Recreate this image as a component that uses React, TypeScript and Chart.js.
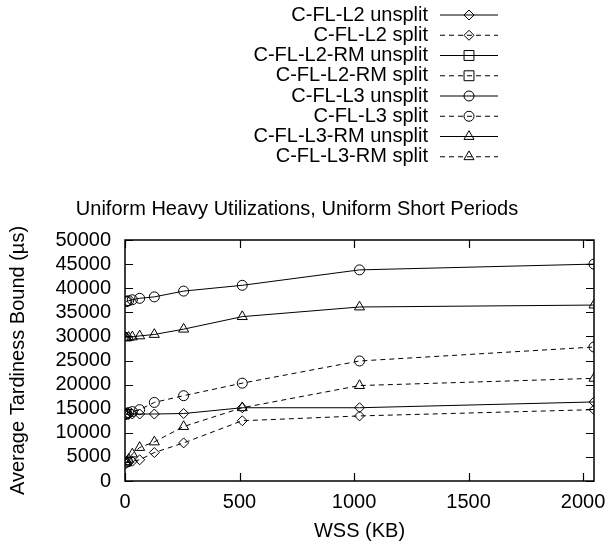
import React, { useEffect, useRef } from 'react';
import { Chart, registerables } from 'chart.js';
import { drawPoint } from 'chart.js/helpers';

Chart.register(...registerables);

// WSS sizes (KB)
const wss = [4, 8, 16, 32, 64, 128, 256, 512, 1024, 2048];

// Average tardiness bound (µs)
const l2Unsplit = [13700, 13800, 13800, 13900, 13900, 13900, 14000, 15200, 15200, 16400];
const l2Split = [3600, 3800, 3900, 4100, 4400, 5900, 7900, 12500, 13500, 14800];
const l2RmUnsplit: number[] = [];
const l2RmSplit: number[] = [];
const l3Unsplit = [37200, 37300, 37400, 37600, 37900, 38200, 39400, 40600, 43800, 45000];
const l3Split = [13900, 14000, 14200, 14400, 14800, 16300, 17700, 20300, 24900, 27800];
const l3RmUnsplit = [29700, 29700, 29800, 29900, 30100, 30400, 31500, 34100, 36100, 36500];
const l3RmSplit = [3700, 4000, 4500, 5600, 6950, 8100, 11300, 15200, 19800, 21300];

// Tick labels
const xTickValues = [0, 500, 1000, 1500, 2000];
const yTickValues = [0, 5000, 10000, 15000, 20000, 25000, 30000, 35000, 40000, 45000, 50000];

const seriesLabels = [
  'C-FL-L2 unsplit',
  'C-FL-L2 split',
  'C-FL-L2-RM unsplit',
  'C-FL-L2-RM split',
  'C-FL-L3 unsplit',
  'C-FL-L3 split',
  'C-FL-L3-RM unsplit',
  'C-FL-L3-RM split',
];
const seriesValues = [l2Unsplit, l2Split, l2RmUnsplit, l2RmSplit, l3Unsplit, l3Split, l3RmUnsplit, l3RmSplit];
const seriesMarkers = ['rectRot', 'rectRot', 'rect', 'rect', 'circle', 'circle', 'triangle', 'triangle'];
const seriesDashed = [false, true, false, true, false, true, false, true];

const titleText = 'Uniform Heavy Utilizations, Uniform Short Periods';
const xTitle = 'WSS (KB)';
const yTitle = 'Average Tardiness Bound (µs)';

const FONT = "'Liberation Sans', Arial, Helvetica, sans-serif";
const DASH = [5, 4];

function markerRadius(style: string) {
  if (style === 'rect') return 7;
  if (style === 'triangle') return 5.8;
  return 5;
}

const framePlugin = {
  id: 'gpFrame',
  afterDraw(chart: any) {
    const ctx = chart.ctx as CanvasRenderingContext2D;
    const { left, right, top, bottom } = chart.chartArea;
    const xs = chart.scales.x;
    const ys = chart.scales.y;
    const TL = 8;
    ctx.save();
    ctx.strokeStyle = '#000';
    ctx.lineWidth = 1.2;
    ctx.setLineDash([]);
    for (const v of xTickValues) {
      const px = Math.round(xs.getPixelForValue(v)) + 0.5;
      ctx.beginPath();
      ctx.moveTo(px, bottom);
      ctx.lineTo(px, bottom - TL);
      ctx.moveTo(px, top);
      ctx.lineTo(px, top + TL);
      ctx.stroke();
    }
    for (const v of yTickValues) {
      const py = Math.round(ys.getPixelForValue(v)) + 0.5;
      ctx.beginPath();
      ctx.moveTo(left, py);
      ctx.lineTo(left + TL, py);
      ctx.moveTo(right, py);
      ctx.lineTo(right - TL, py);
      ctx.stroke();
    }
    ctx.lineWidth = 1.5;
    ctx.strokeRect(left, top, right - left, bottom - top);
    ctx.restore();
  },
};

const legendPlugin = {
  id: 'gpLegend',
  afterDraw(chart: any) {
    const ctx = chart.ctx as CanvasRenderingContext2D;
    ctx.save();
    ctx.font = `20px ${FONT}`;
    ctx.textAlign = 'right';
    ctx.textBaseline = 'middle';
    chart.data.datasets.forEach((ds: any, i: number) => {
      const y = 15 + i * 20.25;
      ctx.fillStyle = '#000';
      ctx.fillText(ds.label, 428, y);
      ctx.beginPath();
      ctx.setLineDash(ds.borderDash || []);
      ctx.lineWidth = 1;
      ctx.strokeStyle = '#000';
      ctx.moveTo(440, y);
      ctx.lineTo(498, y);
      ctx.stroke();
      ctx.setLineDash([]);
      ctx.fillStyle = 'rgba(0,0,0,0)';
      drawPoint(ctx, { pointStyle: ds.pointStyle, radius: ds.pointRadius, borderWidth: 1, rotation: 0 } as any, 469, y);
    });
    ctx.restore();
  },
};

export default function App() {
  const ref = useRef<HTMLCanvasElement | null>(null);

  useEffect(() => {
    if (!ref.current) return;
    const datasets = seriesLabels.map((label, i) => ({
      label,
      data: seriesValues[i].map((v, j) => ({ x: wss[j], y: v })),
      borderColor: '#000',
      backgroundColor: 'rgba(0,0,0,0)',
      borderWidth: 1,
      borderDash: seriesDashed[i] ? DASH : [],
      pointStyle: seriesMarkers[i],
      pointRadius: markerRadius(seriesMarkers[i]),
      pointBorderWidth: 1,
      pointBorderColor: '#000',
      pointBackgroundColor: 'rgba(0,0,0,0)',
      tension: 0,
      fill: false,
    }));

    const chart = new Chart(ref.current, {
      type: 'line',
      data: { datasets },
      options: {
        animation: false,
        responsive: false,
        maintainAspectRatio: false,
        layout: { padding: { left: 0, right: 14, top: 0, bottom: 5 } },
        plugins: {
          legend: { display: false },
          tooltip: { enabled: false },
          title: {
            display: true,
            text: titleText,
            color: '#000',
            font: { family: FONT, size: 20, weight: 'normal' },
            padding: { top: 197, bottom: 19 },
          },
        },
        scales: {
          x: {
            type: 'linear',
            min: 0,
            max: 2048,
            grid: { display: false, drawTicks: false },
            border: { display: false },
            afterBuildTicks: (s: any) => {
              s.ticks = xTickValues.map((v) => ({ value: v }));
            },
            ticks: {
              autoSkip: false,
              padding: 9,
              color: '#000',
              font: { family: FONT, size: 20 },
              maxRotation: 0,
              callback: (v: any) => String(v),
            },
            title: {
              display: true,
              text: xTitle,
              color: '#000',
              font: { family: FONT, size: 20 },
              padding: { top: 0, bottom: 0 },
            },
            afterFit: (s: any) => {
              s.height = 62;
              s.paddingLeft = 0;
              s.paddingRight = 0;
            },
          },
          y: {
            type: 'linear',
            min: 0,
            max: 50000,
            grid: { display: false, drawTicks: false },
            border: { display: false },
            afterBuildTicks: (s: any) => {
              s.ticks = yTickValues.map((v) => ({ value: v }));
            },
            ticks: {
              autoSkip: false,
              padding: 14,
              color: '#000',
              font: { family: FONT, size: 20 },
              callback: (v: any) => String(v),
            },
            title: {
              display: true,
              text: yTitle,
              color: '#000',
              font: { family: FONT, size: 20 },
              padding: { top: 6, bottom: 0 },
            },
            afterFit: (s: any) => {
              s.width = 125;
              s.paddingTop = 0;
              s.paddingBottom = 0;
            },
          },
        },
      },
      plugins: [framePlugin, legendPlugin],
    });
    return () => chart.destroy();
  }, []);

  return (
    <div style={{ position: 'absolute', left: 0, top: 0, width: 608, height: 548, background: '#fff' }}>
      <canvas ref={ref} width={608} height={548} />
    </div>
  );
}
